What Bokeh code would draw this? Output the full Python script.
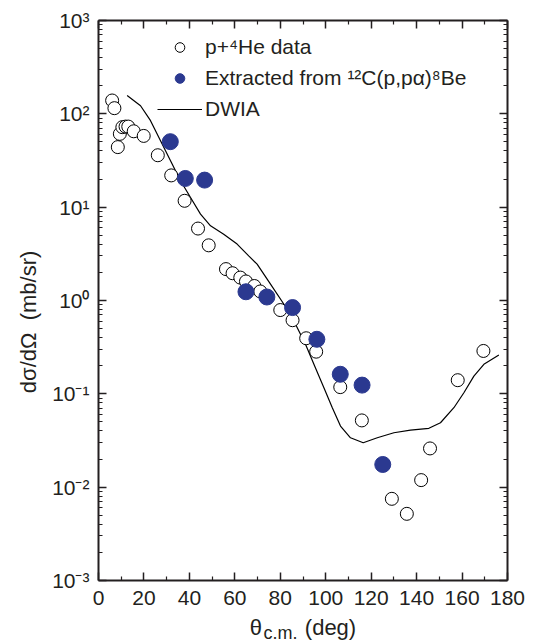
from bokeh.plotting import figure
from bokeh.models import (Range1d, FixedTicker, LinearAxis, LogAxis, CustomJSTickFormatter,
                          Legend, LegendItem, Title, CustomLabelingPolicy)
from bokeh.embed import file_html
from bokeh.resources import INLINE

# ---- data ----
he_theta = [6.0, 7.0, 8.5, 9.4, 10.5, 11.9, 13.1, 15.5, 19.9, 26.1, 32.0, 37.9, 43.8, 48.5,
            56.1, 59.0, 62.4, 64.9, 68.6, 71.2, 80.0, 85.4, 91.4, 95.8, 106.4, 115.9,
            129.1, 135.7, 142.0, 145.9, 158.1, 169.4]
he_xs = [139, 115, 44, 61, 72, 73, 73, 65, 58, 36, 21.9, 11.7, 5.9, 3.9,
         2.17, 1.96, 1.76, 1.60, 1.43, 1.25, 0.79, 0.615, 0.394, 0.283, 0.118, 0.0519,
         0.0075, 0.00518, 0.0119, 0.026, 0.140, 0.288]

ext_theta = [31.6, 38.2, 46.7, 64.9, 74.1, 85.4, 96.1, 106.4, 116.0, 125.1]
ext_xs = [50.3, 20.3, 19.5, 1.24, 1.09, 0.84, 0.384, 0.162, 0.124, 0.0175]

dwia_theta = [12.6, 18.5, 22.9, 27.3, 31.7, 36.1, 40.5, 44.9, 49.3, 55.1, 61.0, 66.1, 69.8,
              75.7, 81.6, 86.7, 91.1, 94.8, 99.2, 102.9, 106.5, 110.9, 116.5, 122.7, 130.0,
              137.3, 145.4, 150.5, 156.4, 160.8, 165.2, 169.6, 176.2]
dwia_xs = [157, 122, 84.5, 51.5, 31.5, 19.2, 12.7, 8.43, 6.31, 5.14, 4.02, 3.01, 2.45,
           1.50, 0.912, 0.557, 0.340, 0.207, 0.116, 0.0710, 0.0452, 0.0338, 0.0299, 0.0338, 0.0383,
           0.0409, 0.0427, 0.0490, 0.0710, 0.1028, 0.155, 0.207, 0.261]

x_ticks = [0, 20, 40, 60, 80, 100, 120, 140, 160, 180]
y_ticks = [1e-3, 1e-2, 1e-1, 1e0, 1e1, 1e2, 1e3]

legend_labels = ["p+\u2074He data", "Extracted from \u00b9\u00b2C(p,p\u03b1)\u2078Be", "DWIA"]
NB = "\u00a0"
y_title = "d\u03c3/d\u03a9" + NB * 2 + "(mb/sr)" + NB * 7
x_title_main = "\u03b8" + NB * 7 + "(deg)"
x_title_sub = "c.m."

FONT = "Liberation Sans"
AXC = "#231f20"
BLUE = "#2b3990"

x_minor = [t + 10 for t in x_ticks[:-1]]
y_minor = [m * d for d in y_ticks[:-1] for m in range(2, 10)]

p = figure(frame_width=409, frame_height=560, y_axis_type="log",
           x_range=Range1d(0, 180), y_range=Range1d(1e-3, 1e3),
           output_backend="svg", toolbar_location=None,
           min_border_left=98, min_border_right=20, min_border_top=20, min_border_bottom=63)
p.outline_line_color = None
p.grid.visible = False
p.background_fill_color = "white"
p.border_fill_color = "white"

sup = CustomJSTickFormatter(code="""
const e = Math.round(Math.log10(tick));
const m = {'-':'\u207b','0':'\u2070','1':'\u00b9','2':'\u00b2','3':'\u00b3','4':'\u2074',
           '5':'\u2075','6':'\u2076','7':'\u2077','8':'\u2078','9':'\u2079'};
return '10' + String(e).split('').map(c => m[c]).join('');
""")

def style(ax):
    ax.axis_line_color = AXC
    ax.axis_line_width = 2
    ax.major_tick_line_color = AXC
    ax.minor_tick_line_color = AXC
    ax.major_tick_line_width = 1.5
    ax.minor_tick_line_width = 1.2
    ax.major_tick_in = 8
    ax.major_tick_out = 0
    ax.minor_tick_in = 4
    ax.minor_tick_out = 0
    ax.major_label_text_font = FONT
    ax.major_label_text_font_size = "21px"
    ax.major_label_text_color = "#231f20"
    ax.axis_label_text_font = FONT
    ax.axis_label_text_font_style = "normal"
    ax.axis_label_text_color = "#231f20"
    ax.axis_label = None

def hide_labels(ax):
    ax.major_label_text_font_size = "2px"
    ax.major_label_standoff = 0
    ax.major_label_policy = CustomLabelingPolicy(code="return new Set()")

xt = FixedTicker(ticks=x_ticks, minor_ticks=x_minor)
yt = FixedTicker(ticks=y_ticks, minor_ticks=y_minor)

xa = p.xaxis[0]
xa.ticker = xt
style(xa)
xa.major_label_standoff = 10
xa.axis_label = x_title_main
xa.axis_label_text_font_size = "22px"
xa.axis_label_standoff = 7

ya = p.yaxis[0]
ya.ticker = yt
ya.formatter = sup
style(ya)
ya.major_label_standoff = 9
ya.axis_label = y_title
ya.axis_label_text_font_size = "22px"
ya.axis_label_standoff = 8

top = LinearAxis(ticker=xt)
style(top)
hide_labels(top)
p.add_layout(top, "above")
right = LogAxis(ticker=yt)
style(right)
hide_labels(right)
p.add_layout(right, "right")

# subscript of the x title, pulled up into the gap left in the main title
p.add_layout(Title(text=x_title_sub, align="left", offset=165, standoff=-40,
                   vertical_align="top",
                   text_font=FONT, text_font_size="18px", text_font_style="normal",
                   text_color="#231f20"), "below")

r_line = p.line(dwia_theta, dwia_xs, line_color="black", line_width=1.2)
r_he = p.scatter(he_theta, he_xs, marker="circle", size=13, fill_color="white",
                 line_color="black", line_width=1)
r_ext = p.scatter(ext_theta, ext_xs, marker="circle", size=16, fill_color=BLUE,
                  line_color=BLUE, line_width=1)

legend = Legend(items=[LegendItem(label=legend_labels[0], renderers=[r_he]),
                       LegendItem(label=legend_labels[1], renderers=[r_ext]),
                       LegendItem(label=legend_labels[2], renderers=[r_line])],
                location=(59, 456), padding=0, margin=0, spacing=0,
                glyph_width=45, glyph_height=24, label_height=31, label_standoff=3,
                label_text_font=FONT, label_text_font_size="21px",
                label_text_color="#231f20",
                border_line_color=None, background_fill_alpha=0)
p.add_layout(legend)

open("out.html", "w").write(file_html(p, INLINE))
